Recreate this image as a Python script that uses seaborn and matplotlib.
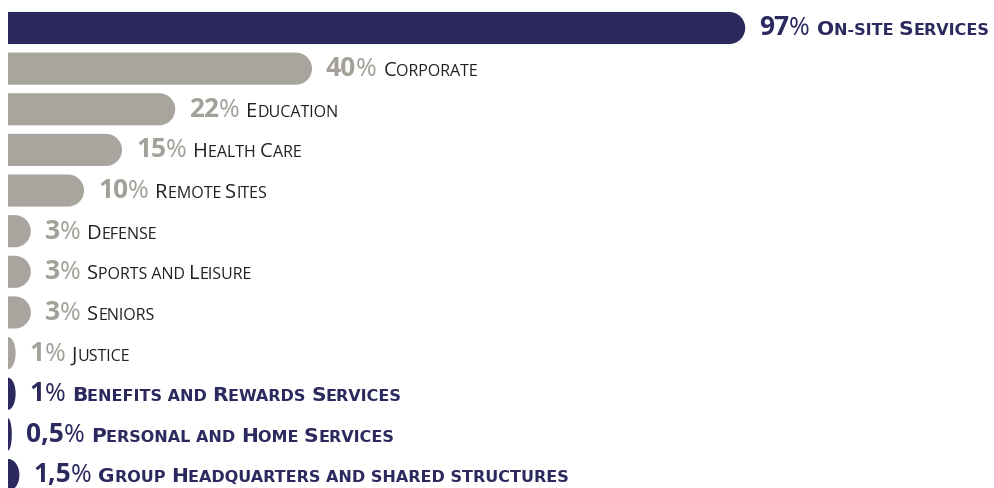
import numpy as np
import pandas as pd
import seaborn as sns
import matplotlib.pyplot as plt
from matplotlib.path import Path
from matplotlib.patches import PathPatch
from matplotlib.offsetbox import TextArea, HPacker, AnnotationBbox

# ---------------- data ----------------
categories = ["On-site Services", "Corporate", "Education", "Health Care",
              "Remote Sites", "Defense", "Sports and Leisure", "Seniors",
              "Justice", "Benefits and Rewards Services",
              "Personal and Home Services",
              "Group Headquarters and shared structures"]
values = [97, 40, 22, 15, 10, 3, 3, 3, 1, 1, 0.5, 1.5]
value_labels = ["97", "40", "22", "15", "10", "3", "3", "3", "1", "1", "0,5", "1,5"]
groups = ["highlight", "other", "other", "other", "other", "other", "other",
          "other", "other", "highlight", "highlight", "highlight"]

NAVY = "#2b295e"
GREY = "#a8a59f"
GREY_TXT = "#a3a09a"
DARK = "#231f20"

sns.set_style("white")
plt.rcParams["font.family"] = ["Open Sans", "DejaVu Sans"]

fig = plt.figure(figsize=(9.95, 4.88), dpi=100)
ax = fig.add_axes([0, 0, 1, 1])

df = pd.DataFrame({"sector": categories, "share": values, "group": groups})
sns.barplot(data=df, y="sector", x="share", hue="group", orient="h",
            palette={"highlight": NAVY, "other": GREY}, dodge=False,
            width=0.79, legend=False, ax=ax, saturation=1)

PX_PER_UNIT = 7.6
ax.set_xlim(-8 / PX_PER_UNIT, (995 - 8) / PX_PER_UNIT)
ax.set_ylim(11.32, -0.689)
ax.axis("off")

# scales in pixels per data unit
p0 = ax.transData.transform((0, 0))
sx = ax.transData.transform((1, 0))[0] - p0[0]
sy = abs(ax.transData.transform((0, 1))[1] - p0[1])

# replace rectangles with right-rounded shapes
for patch in list(ax.patches):
    w = patch.get_width()
    if not np.isfinite(w) or w <= 0:
        continue
    x0, y0, h = patch.get_x(), patch.get_y(), patch.get_height()
    fc = patch.get_facecolor()
    patch.set_visible(False)
    ry_px = abs(h) * sy / 2
    rx_px = min(ry_px, w * sx)
    rx = rx_px / sx
    yc = y0 + h / 2
    t = np.linspace(-np.pi / 2, np.pi / 2, 60)
    verts = [(x0, y0 + h), (x0 + w - rx, y0 + h)]
    verts += list(zip(x0 + w - rx + rx * np.cos(t), yc - (h / 2) * np.sin(t)))
    verts += [(x0, y0), (x0, y0 + h)]
    codes = [Path.MOVETO] + [Path.LINETO] * (len(verts) - 2) + [Path.CLOSEPOLY]
    ax.add_patch(PathPatch(Path(verts, codes), facecolor=fc, edgecolor="none"))


def smallcaps_segments(text):
    segs = []
    for ch in text:
        big = ch.isupper()
        if segs and (segs[-1][1] == big or ch == " "):
            segs[-1][0] += ch.upper()
        else:
            segs.append([ch.upper(), big])
    return segs


NUM_FS = 19
CAP_FS = 14.5
SMALL_FS = 11.5
BOLD_FAMILY = ["DejaVu Sans"]

for i, (cat, val, lab, grp) in enumerate(zip(categories, values, value_labels, groups)):
    hi = grp == "highlight"
    num_color = NAVY if hi else GREY_TXT
    txt_color = NAVY if hi else DARK
    children = [
        TextArea(lab, textprops=dict(fontsize=NUM_FS, color=num_color,
                                     fontweight="bold")),
        TextArea("% ", textprops=dict(fontsize=NUM_FS * 0.95, color=num_color,
                                      fontweight="normal")),
    ]
    for seg, big in smallcaps_segments(cat):
        props = dict(fontsize=CAP_FS if big else SMALL_FS, color=txt_color)
        if hi:
            props.update(fontweight="bold", family=BOLD_FAMILY)
        children.append(TextArea(seg, textprops=props))
    pack = HPacker(children=children, align="baseline", pad=0, sep=0)
    ab = AnnotationBbox(pack, (val + 14 / sx, i), xycoords="data",
                        box_alignment=(0, 0.5), frameon=False, pad=0)
    ax.add_artist(ab)

fig.savefig("out.png", dpi=100)
